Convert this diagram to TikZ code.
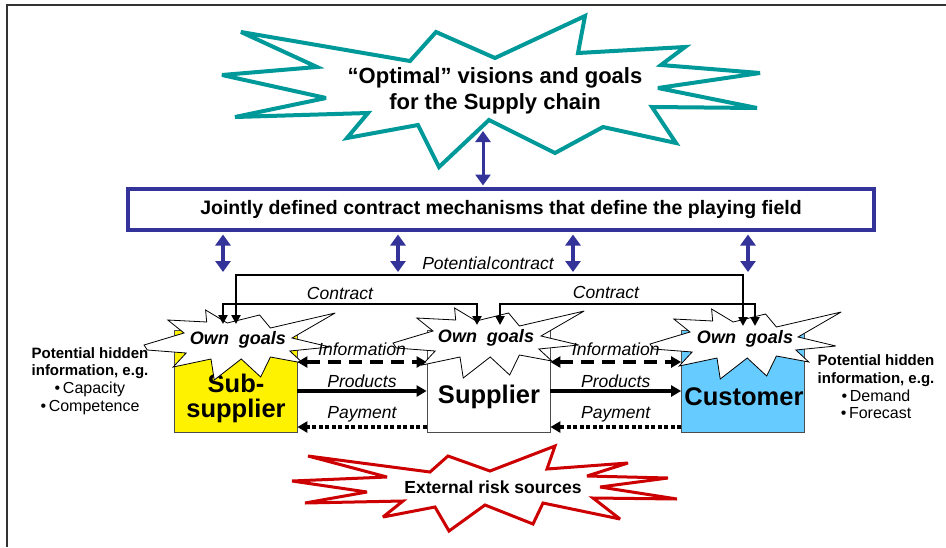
\documentclass[tikz,border=0pt]{standalone}
\usepackage{fontspec}
\setmainfont{Liberation Sans}
\usetikzlibrary{arrows.meta}
\definecolor{visionteal}{RGB}{0,153,153}
\definecolor{fieldblue}{RGB}{51,51,153}
\definecolor{riskred}{RGB}{204,0,0}
\definecolor{custblue}{RGB}{102,204,255}

\begin{document}
\begin{tikzpicture}[x=1pt,y=-1pt,
  actor/.style={draw=black!70,line width=0.8,minimum width=123,minimum height=102,inner sep=0},
  actortext/.style={font=\fontsize{25.5}{25}\selectfont\bfseries,align=center},
  goals/.style={font=\fontsize{18}{20}\selectfont\bfseries\itshape,inner sep=0},
  flowlabel/.style={font=\fontsize{17.5}{19}\selectfont\itshape,inner sep=1},
  bluearrow/.style={fieldblue,line width=4,{Triangle[length=11pt,width=15pt]}-{Triangle[length=11pt,width=15pt]}},
  contractline/.style={line width=2.5,{Triangle[length=9pt,width=9pt]}-{Triangle[length=9pt,width=9pt]}},
  flow/.style={line width=4},
  hidden/.style={font=\fontsize{16}{17.6}\selectfont,align=center,inner sep=0},
  goalstar/.pic={
    \draw[fill=white,line width=0.8,line join=miter,miter limit=4,xscale=1.08]
      (-87,0) -- (-50,-12) -- (-65,-25) -- (-29,-23) -- (-30,-35) -- (-10,-22)
      -- (20,-30) -- (30,-17) -- (90,-32) -- (50,-7) -- (85,2) -- (48,6)
      -- (60,18) -- (30,12) -- (21,32) -- (3,14) -- (-22,35) -- (-25,14)
      -- (-60,22) -- (-48,8) -- (-84,5) -- cycle;
  }]
\useasboundingbox (0,0) rectangle (946,547);
\draw[line width=2,black!80] (946,5) -- (7,5) -- (7,547);

% visions
\draw[visionteal,line width=4,fill=white,line join=miter,miter limit=4]
  (241,32) -- (410,61) -- (436,32) -- (495,58) -- (585,16) -- (578,53)
  -- (685,47) -- (661,65) -- (760,73) -- (658,88) -- (757,108) -- (652,107)
  -- (676,143) -- (603,127) -- (555,153) -- (489,120) -- (439,167) -- (418,125)
  -- (347,138) -- (368,113) -- (235,117) -- (326,98) -- (222,75) -- (317,67) -- cycle;
\node[font=\fontsize{22}{26}\selectfont\bfseries,align=center] (vision) at (495,91)
  {“Optimal” visions and goals\\for the Supply chain};

% playing field
\node[draw=fieldblue,line width=4,minimum width=746,minimum height=41,
  font=\fontsize{19.5}{20}\selectfont\bfseries] (field) at (501,209)
  {Jointly defined contract mechanisms that define the playing field};
\coordinate (visiontip) at (483,131);
\draw[bluearrow,line width=3] (visiontip) -- ([yshift=1pt]field.north -| visiontip);
\foreach \x [count=\i] in {223,398,573,748}{
  \coordinate (fieldlink\i) at (\x,272);
  \draw[bluearrow] ([yshift=-3pt]field.south -| fieldlink\i) -- (fieldlink\i);
}

% actors
\node[actor,fill=yellow] (subsup) at (235.5,381) {};
\node[actor,fill=white] (supplier) at (488.5,381) {};
\node[actor,fill=custblue] (customer) at (743,381) {};
\node[actortext] (subsuptext) at (236,398) {Sub-\\supplier};
\node[actortext] (suppliertext) at (489,397) {Supplier};
\node[actortext] (customertext) at (744,397) {Customer};

% own goals
\pic at (238,345) {goalstar};
\pic at (487,343) {goalstar};
\pic at (744,344) {goalstar};
\node[goals] (goalsL) at (238,340) {Own\ \ goals};
\node[goals] (goalsM) at (486,338) {Own\ \ goals};
\node[goals] (goalsR) at (745,339) {Own\ \ goals};

% contracts
\coordinate (ssPot) at (236,324);
\coordinate (cuPot) at (743,326);
\coordinate (ssCon) at (223,324);
\coordinate (suConL) at (477,325);
\coordinate (suConR) at (500,325);
\coordinate (cuCon) at (755,326);
\draw[contractline] (ssPot) -- ++(0,-49) -| (cuPot);
\node[flowlabel] (potlabel) at (488,263) {Potential\kern1pt contract};
\draw[contractline] (ssCon) -- ++(0,-20) -| (suConL);
\node[flowlabel] (conlabelL) at (340,293) {Contract};
\draw[contractline] (suConR) -- ++(0,-21) -| (cuCon);
\node[flowlabel] (conlabelR) at (606,292) {Contract};

% flows
\coordinate (infoy) at (0,362);
\coordinate (prody) at (0,391);
\coordinate (payy) at (0,427);
\foreach \a/\b in {subsup/supplier,supplier/customer}{
  \draw[flow,dash pattern=on 13pt off 8pt,{Triangle[length=10pt,width=11pt]}-{Triangle[length=10pt,width=11pt]}]
    (\a.east |- infoy) -- node[flowlabel,above=3pt] {Information} (\b.west |- infoy);
  \draw[flow,-{Triangle[length=10pt,width=11pt]}]
    (\a.east |- prody) -- node[flowlabel,above] {Products} (\b.west |- prody);
  \draw[flow,dash pattern=on 4pt off 2.5pt,-{Triangle[length=10pt,width=11pt]}]
    (\b.west |- payy) -- node[flowlabel,above=2pt] {Payment} (\a.east |- payy);
}

% hidden information
\node[hidden] (sshidden) at (90,381) {\textbf{\fontsize{15}{17.6}\selectfont Potential hidden}\\\textbf{\fontsize{15}{17.6}\selectfont information, e.g.}\\•\,Capacity\\•\,Competence};
\node[hidden] (cuhidden) at (876,387) {\textbf{\fontsize{15}{18}\selectfont Potential hidden}\\\textbf{\fontsize{15}{18}\selectfont information, e.g.}\\•\,Demand\\•\,Forecast};

% risk
\draw[riskred,line width=3,fill=white,line join=miter,miter limit=4]
  (308,456) -- (430,472) -- (448,456) -- (490,471) -- (555,446) -- (547,469)
  -- (628,463) -- (587,476) -- (668,478) -- (600,487) -- (677,499) -- (593,498)
  -- (620,519) -- (543,503) -- (533,524) -- (485,505) -- (449,531) -- (435,507)
  -- (383,517) -- (403,501) -- (305,503) -- (367,492) -- (292,481) -- (387,477) -- cycle;
\node[font=\fontsize{17.5}{19}\selectfont\bfseries] (risk) at (493,487) {External risk sources};
\end{tikzpicture}
\end{document}
